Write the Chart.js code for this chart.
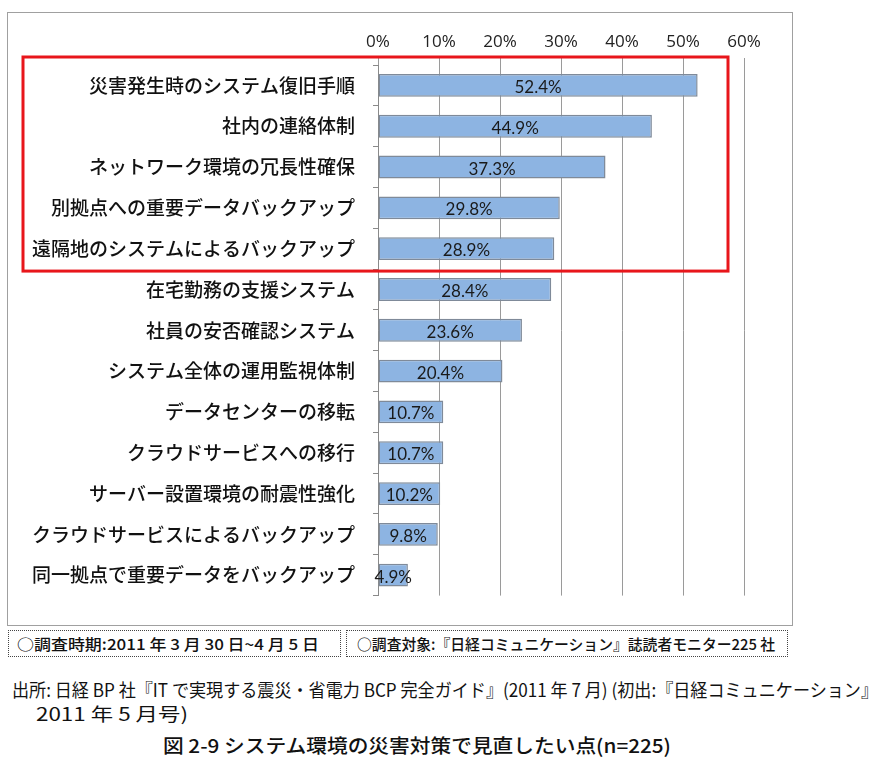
<!DOCTYPE html>
<html>
<head>
<meta charset="utf-8">
<script src="https://cdn.jsdelivr.net/npm/chart.js@4.4.0/dist/chart.umd.min.js"></script>
<style>
  body { margin: 0; background: #fff; width: 887px; height: 759px; position: relative; overflow: hidden;
         font-family: "Noto Sans CJK JP", sans-serif; color: #111; }
  #frame { position: absolute; left: 7px; top: 12px; width: 784px; height: 612px; border: 1px solid #a0a0a0; }
  #frame canvas { display: block; }
  .note { position: absolute; top: 630px; height: 27px; border: 1px dotted #444; box-sizing: border-box;
          font-size: 15px; line-height: 25px; white-space: nowrap; overflow: hidden; font-weight: 500; }
  .fit { display: inline-block; transform-origin: left center; white-space: nowrap; }
  #src1 { position: absolute; left: 12px; top: 676px; font-size: 18px; }
  #src2 { position: absolute; left: 36px; top: 700px; font-size: 18px; }
  #cap { position: absolute; left: 163px; top: 731px; font-size: 19px; font-weight: 500; }
</style>
</head>
<body>
<div id="frame"><canvas id="chart" width="784" height="612"></canvas></div>
<div class="note" style="left:8px;width:333px;padding-left:8px"><span class="fit" data-w="302">○調査時期:2011 年 3 月 30 日~4 月 5 日</span></div>
<div class="note" style="left:346px;width:442px;padding-left:10px"><span class="fit" data-w="418">○調査対象:『日経コミュニケーション』誌読者モニター225 社</span></div>
<span id="src1" class="fit" data-w="866">出所: 日経 BP 社『IT で実現する震災・省電力 BCP 完全ガイド』(2011 年 7 月) (初出:『日経コミュニケーション』</span>
<span id="src2" class="fit" data-w="152">2011 年 5 月号)</span>
<span id="cap" class="fit" data-w="508">図 2-9 システム環境の災害対策で見直したい点(n=225)</span>
<script>
const categories = [
  '災害発生時のシステム復旧手順',
  '社内の連絡体制',
  'ネットワーク環境の冗長性確保',
  '別拠点への重要データバックアップ',
  '遠隔地のシステムによるバックアップ',
  '在宅勤務の支援システム',
  '社員の安否確認システム',
  'システム全体の運用監視体制',
  'データセンターの移転',
  'クラウドサービスへの移行',
  'サーバー設置環境の耐震性強化',
  'クラウドサービスによるバックアップ',
  '同一拠点で重要データをバックアップ'
];
const percents = [52.4, 44.9, 37.3, 29.8, 28.9, 28.4, 23.6, 20.4, 10.7, 10.7, 10.2, 9.8, 4.9];
const xTicks = [0, 10, 20, 30, 40, 50, 60];
const highlightCount = 5; // first five items are boxed in red

// squeeze the text lines to the widths they have in the original
document.querySelectorAll('.fit').forEach(el => {
  const target = parseFloat(el.dataset.w);
  const w = el.getBoundingClientRect().width;
  if (w > 0) el.style.transform = `scaleX(${target / w})`;
});

const barLabels = {
  id: 'barLabels',
  afterDatasetsDraw(chart) {
    const ctx = chart.ctx;
    const meta = chart.getDatasetMeta(0);
    ctx.save();
    ctx.font = '17px Lato, "Open Sans", sans-serif';
    ctx.fillStyle = '#1a1a1a';
    ctx.textAlign = 'center';
    ctx.textBaseline = 'middle';
    meta.data.forEach((bar, i) => {
      const cx = (bar.x + bar.base) / 2;
      ctx.fillText(percents[i].toFixed(1) + '%', cx, bar.y + 2);
    });
    ctx.restore();
  }
};

const redBox = {
  id: 'redBox',
  afterDraw(chart) {
    const y = chart.scales.y;
    const half = (y.getPixelForValue(1) - y.getPixelForValue(0)) / 2;
    const top = y.getPixelForValue(0) - half - 8;
    const bottom = y.getPixelForValue(highlightCount - 1) + half + 2;
    const ctx = chart.ctx;
    ctx.save();
    ctx.strokeStyle = '#e8161b';
    ctx.lineWidth = 3;
    ctx.strokeRect(15, top, chart.chartArea.right - 16 - 15, bottom - top);
    ctx.restore();
  }
};

new Chart(document.getElementById('chart'), {
  type: 'bar',
  data: {
    labels: categories,
    datasets: [{
      data: percents,
      backgroundColor: '#8db4e2',
      borderColor: '#7f8a99',
      borderWidth: 1.5,
      borderSkipped: false,
      barPercentage: 0.56,
      categoryPercentage: 1
    }]
  },
  options: {
    indexAxis: 'y',
    responsive: false,
    animation: false,
    layout: { padding: { left: 0, right: 48, top: 0, bottom: 22 } },
    plugins: { legend: { display: false }, tooltip: { enabled: false } },
    scales: {
      x: {
        position: 'top',
        min: 0,
        max: 60,
        afterBuildTicks(scale) { scale.ticks = xTicks.map(v => ({ value: v })); },
        afterFit(scale) { scale.height = 52; },
        grid: { color: '#9a9a9a', lineWidth: 1, tickLength: 7, drawTicks: true },
        border: { display: false },
        ticks: {
          padding: 6,
          color: '#222',
          font: { family: '"Liberation Sans Narrow", "Open Sans", sans-serif', size: 17 },
          callback: v => v + '%'
        }
      },
      y: {
        afterFit(scale) { scale.width = 370; },
        grid: { offset: true, drawOnChartArea: false, color: '#8a8a8a', tickLength: 5 },
        border: { color: '#8a8a8a', width: 1 },
        ticks: {
          padding: 18,
          color: '#111',
          font: { family: '"Noto Sans CJK JP", sans-serif', size: 19, weight: '500' }
        }
      }
    }
  },
  plugins: [barLabels, redBox]
});
</script>
</body>
</html>
